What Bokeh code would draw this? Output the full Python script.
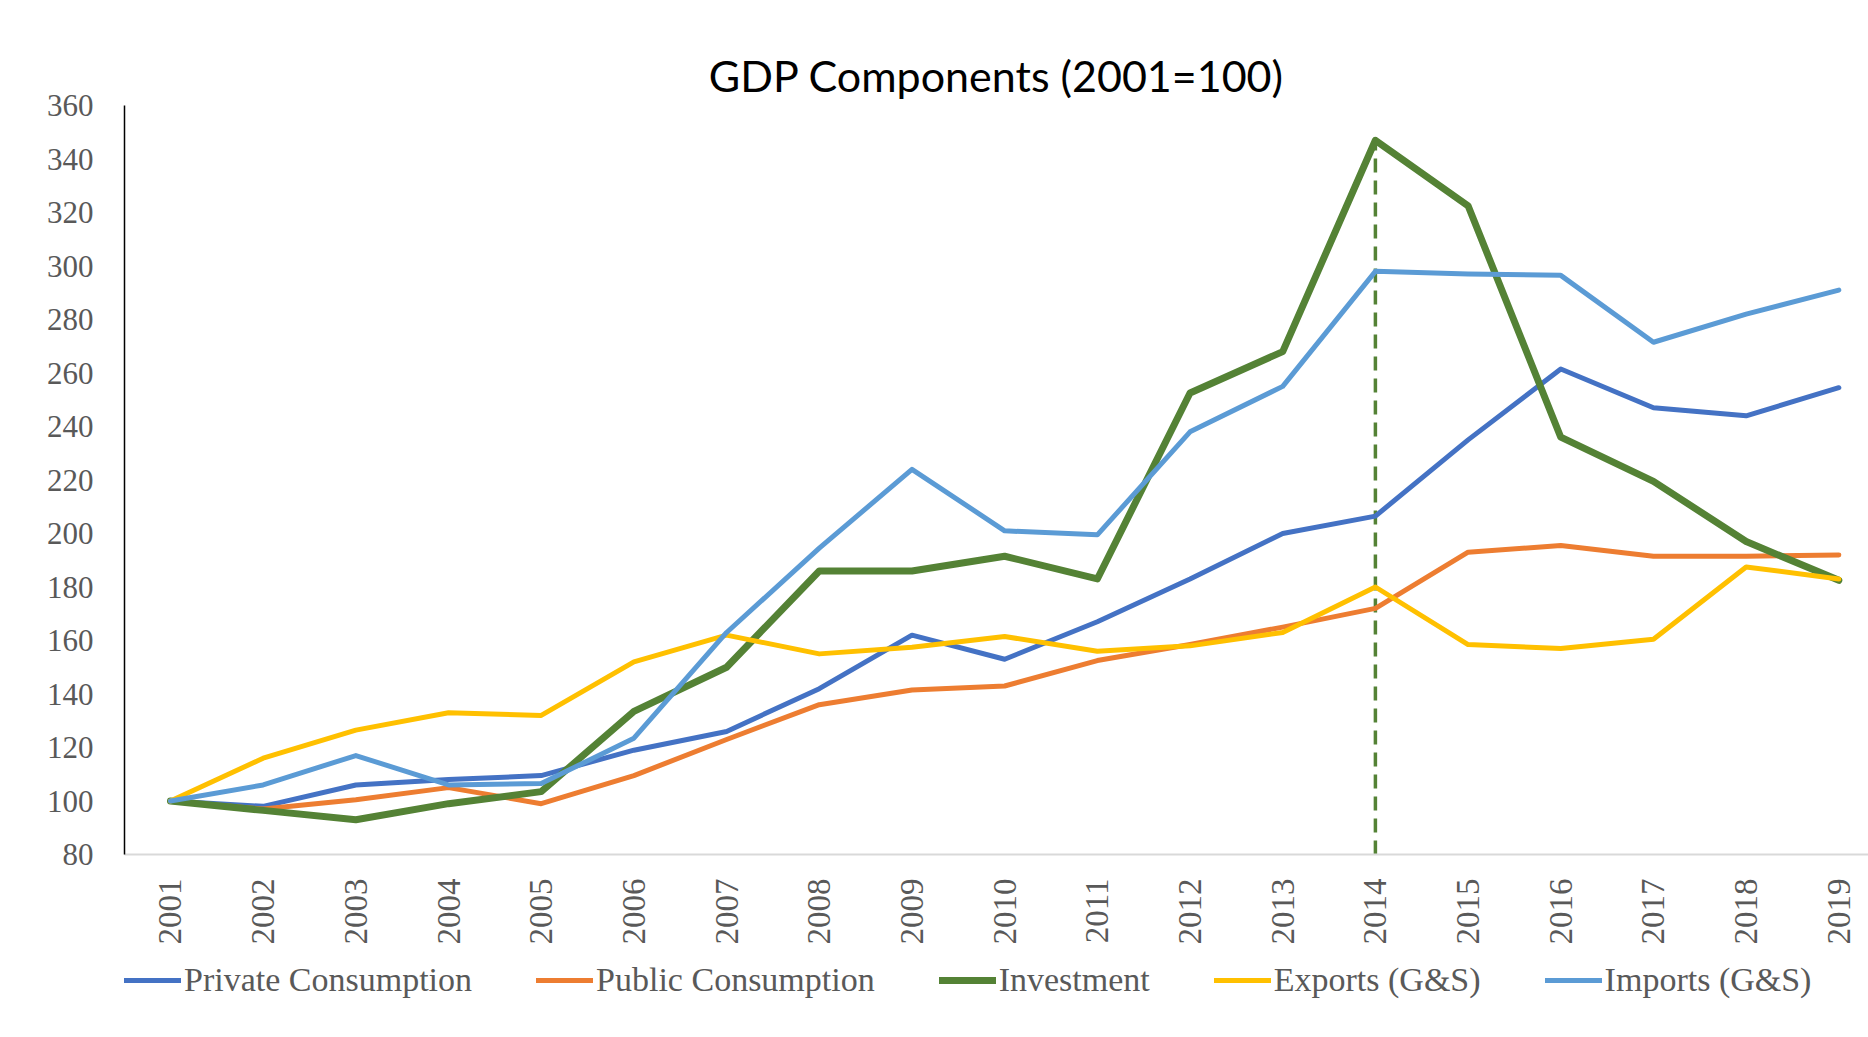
from bokeh.plotting import figure
from bokeh.models import Range1d, FixedTicker, Legend, LegendItem
from bokeh.layouts import column
from bokeh.embed import file_html
from bokeh.resources import INLINE
from math import pi

years = list(range(2001, 2020))
private_consumption = [100, 98, 106, 108, 109.5, 119, 126, 142, 162, 153, 167, 183, 200, 206.5, 235, 261.5, 247, 244, 254.5]
public_consumption = [100, 97, 100.5, 105, 99, 109.5, 123, 136, 141.5, 143, 152.5, 158.5, 165, 172, 193, 195.5, 191.5, 191.5, 192]
investment = [100, 96.5, 93, 99, 103.5, 133.5, 150, 186, 186, 191.5, 183, 252.5, 268, 347, 322.5, 236, 219.5, 197, 182.5]
exports = [100, 116, 126.5, 133, 132, 152, 162, 155, 157.5, 161.5, 156, 158, 163, 180, 158.5, 157, 160.5, 187.5, 183]
imports = [100, 106, 117, 106, 106.5, 123.5, 163, 194.5, 224, 201, 199.5, 238, 255, 298, 297, 296.5, 271.5, 282, 291]
series_names = ["Private Consumption", "Public Consumption", "Investment", "Exports (G&S)", "Imports (G&S)"]
y_ticks = list(range(80, 361, 20))
marked_year = 2014

colors = ["#4472C4", "#ED7D31", "#548235", "#FFC000", "#5B9BD5"]
widths = [5, 5, 7, 5, 5]
series = [private_consumption, public_consumption, investment, exports, imports]

x_range = Range1d(2000.504, 2019.32)

p = figure(width=1868, height=954, output_backend="svg", toolbar_location=None,
           x_range=x_range, y_range=Range1d(80, 360),
           min_border_left=124, min_border_right=0, min_border_top=105, min_border_bottom=100,
           title="GDP Components (2001=100)")
p.title.align = "center"
p.title.text_font = "Lato"
p.title.text_font_style = "normal"
p.title.text_font_size = "43px"
p.title.text_color = "#000000"
p.title.standoff = 10

p.outline_line_color = None
p.xgrid.visible = False
p.ygrid.visible = False

p.xaxis.ticker = FixedTicker(ticks=years)
p.yaxis.ticker = FixedTicker(ticks=y_ticks)
for ax in (p.xaxis[0], p.yaxis[0]):
    ax.major_tick_line_color = None
    ax.minor_tick_line_color = None
    ax.major_label_text_font = "Liberation Serif"
    ax.major_label_text_color = "#595959"
p.yaxis.major_label_text_font_size = "31px"
p.xaxis.major_label_text_font_size = "33px"
p.yaxis.axis_line_color = "#000000"
p.yaxis.axis_line_width = 1.5
p.yaxis.major_label_standoff = 25
p.xaxis.axis_line_color = "#D9D9D9"
p.xaxis.axis_line_width = 2
p.xaxis.major_label_orientation = pi / 2
p.xaxis.major_label_standoff = 18

idx = years.index(marked_year)
p.segment(x0=[marked_year], y0=[y_ticks[0]], x1=[marked_year], y1=[investment[idx]],
          line_color="#548235", line_width=3.5, line_dash="14 8")

for vals, c, w in zip(series, colors, widths):
    p.line(years, vals, line_color=c, line_width=w, line_join="round", line_cap="round")

# Legend strip below the chart (its lines lie outside this strip's range, so only the legend shows)
lg = figure(width=1868, height=83, output_backend="svg", toolbar_location=None,
            x_range=x_range, y_range=Range1d(1000, 1001),
            x_axis_type=None, y_axis_type=None,
            min_border_left=0, min_border_right=0, min_border_top=0, min_border_bottom=0)
lg.outline_line_color = None
lg.xgrid.visible = False
lg.ygrid.visible = False
items = []
for name, vals, c, w in zip(series_names, series, colors, widths):
    r = lg.line(years, vals, line_color=c, line_width=w, line_cap="round")
    items.append(LegendItem(label=name, renderers=[r]))

legend = Legend(items=items, orientation="horizontal", location=(0, 38),
                glyph_width=57, glyph_height=38, label_standoff=3, spacing=64,
                padding=0, margin=0, border_line_alpha=0, background_fill_alpha=0,
                label_text_font="Liberation Serif", label_text_font_size="34px",
                label_text_color="#595959")
lg.add_layout(legend, "center")

layout = column(p, lg, spacing=0)
open("out.html", "w").write(file_html(layout, INLINE))
